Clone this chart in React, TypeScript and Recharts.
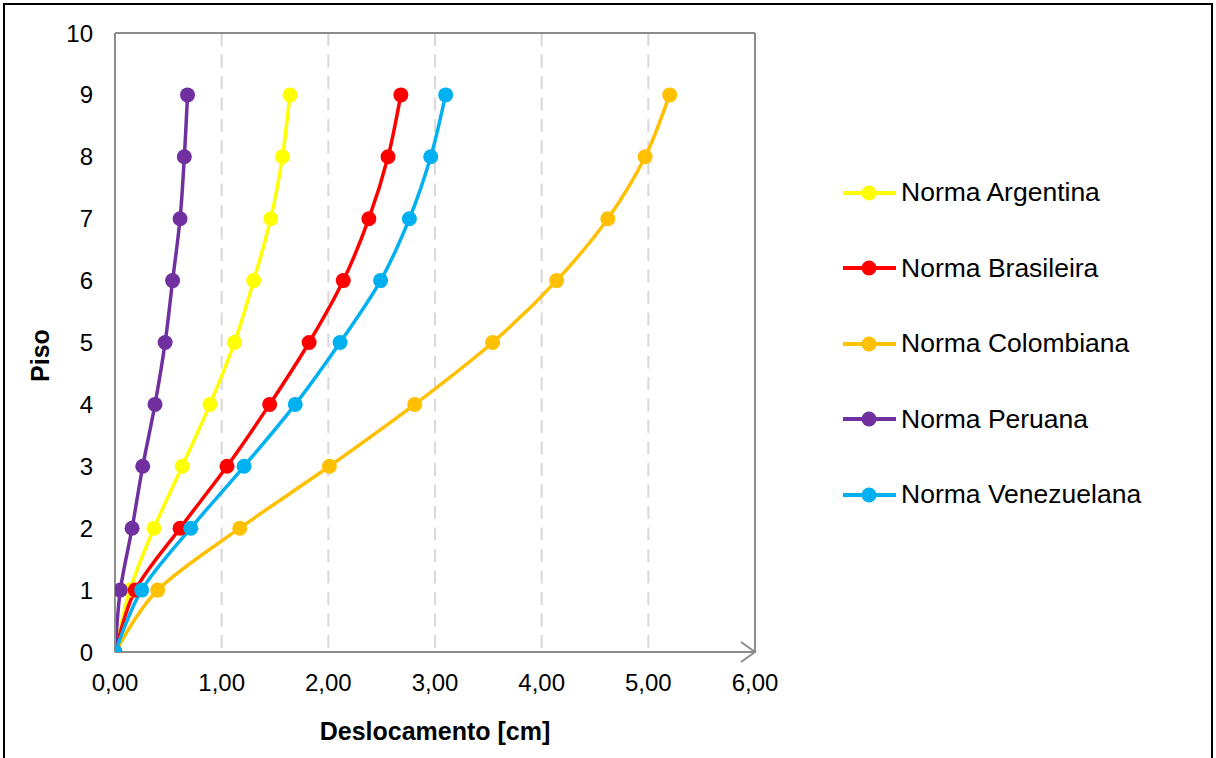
import React from 'react';
import { LineChart, Line, XAxis, YAxis, CartesianGrid, ReferenceLine } from 'recharts';

const floors = [0, 1, 2, 3, 4, 5, 6, 7, 8, 9];
const argentina = [0, 0.14, 0.365, 0.63, 0.89, 1.12, 1.3, 1.46, 1.57, 1.64];
const brasileira = [0, 0.19, 0.61, 1.05, 1.45, 1.82, 2.14, 2.38, 2.56, 2.68];
const colombiana = [0, 0.4, 1.17, 2.01, 2.81, 3.54, 4.14, 4.62, 4.97, 5.2];
const peruana = [0, 0.05, 0.16, 0.26, 0.375, 0.47, 0.54, 0.61, 0.65, 0.68];
const venezuelana = [0, 0.25, 0.71, 1.21, 1.69, 2.11, 2.49, 2.76, 2.96, 3.1];

const xTicks = [0, 1, 2, 3, 4, 5, 6];
const yTicks = [0, 1, 2, 3, 4, 5, 6, 7, 8, 9, 10];

const seriesNames = ['Norma Argentina', 'Norma Brasileira', 'Norma Colombiana', 'Norma Peruana', 'Norma Venezuelana'];
const seriesColors = ['#FFFF00', '#FF0000', '#FFC000', '#7030A0', '#00B0F0'];
const seriesValues = [argentina, brasileira, colombiana, peruana, venezuelana];

const FONT = '"Liberation Sans", Arial, sans-serif';
const AXIS_GRAY = '#8c8c8c';

const toData = (vals: number[]) => floors.map((f, i) => ({ x: vals[i], y: f }));

const fmt = (v: number) => v.toFixed(2).replace('.', ',');

// Catmull-Rom style smoothing (similar to Excel smoothed lines)
const smoothCurve = (context: any) => {
  let pts: [number, number][] = [];
  return {
    areaStart() {},
    areaEnd() {},
    lineStart() {
      pts = [];
    },
    lineEnd() {
      if (!pts.length) return;
      context.moveTo(pts[0][0], pts[0][1]);
      for (let i = 0; i < pts.length - 1; i++) {
        const p0 = pts[i - 1] || pts[i];
        const p1 = pts[i];
        const p2 = pts[i + 1];
        const p3 = pts[i + 2] || pts[i + 1];
        context.bezierCurveTo(
          p1[0] + (p2[0] - p0[0]) / 6,
          p1[1] + (p2[1] - p0[1]) / 6,
          p2[0] - (p3[0] - p1[0]) / 6,
          p2[1] - (p3[1] - p1[1]) / 6,
          p2[0],
          p2[1]
        );
      }
    },
    point(x: number, y: number) {
      pts.push([+x, +y]);
    },
  };
};

const XLabel = (props: any) => {
  const vb = props.viewBox || {};
  return (
    <text x={vb.x + vb.width / 2} y={vb.y + 88} textAnchor="middle" fontFamily={FONT} fontWeight="bold" fontSize={25} fill="#000">
      Deslocamento [cm]
    </text>
  );
};

const YLabel = (props: any) => {
  const vb = props.viewBox || {};
  const cx = vb.x + vb.width - 75;
  const cy = vb.y + vb.height / 2 + 13;
  return (
    <text x={cx} y={cy} transform={`rotate(-90 ${cx} ${cy})`} textAnchor="middle" dominantBaseline="central" fontFamily={FONT} fontWeight="bold" fontSize={25} fill="#000">
      Piso
    </text>
  );
};

export default function App() {
  return (
    <div style={{ position: 'absolute', left: 0, top: 0, width: 1216, height: 758, background: '#fff', overflow: 'hidden' }}>
      <LineChart width={1216} height={758} margin={{ top: 33, right: 461, bottom: 26, left: 35 }}>
        <defs>
          <marker id="axisArrow" markerUnits="userSpaceOnUse" markerWidth={20} markerHeight={24} refX={16} refY={12} orient="auto">
            <path d="M2,2 L16,12 L2,22" fill="none" stroke={AXIS_GRAY} strokeWidth={2} />
          </marker>
        </defs>
        <CartesianGrid horizontal={false} vertical={true} stroke="#d9d9d9" strokeWidth={2} strokeDasharray="13 8.5" />
        <XAxis
          type="number"
          dataKey="x"
          domain={[0, 6]}
          ticks={xTicks}
          tickFormatter={fmt}
          height={80}
          axisLine={{ stroke: AXIS_GRAY, strokeWidth: 2, markerEnd: 'url(#axisArrow)' }}
          tickLine={false}
          tickSize={6}
          tickMargin={16}
          tick={{ fontFamily: FONT, fontSize: 24, fill: '#000' }}
          allowDataOverflow
          label={<XLabel />}
        />
        <YAxis
          type="number"
          dataKey="y"
          domain={[0, 10]}
          ticks={yTicks}
          width={80}
          axisLine={{ stroke: AXIS_GRAY, strokeWidth: 2 }}
          tickLine={false}
          tickSize={6}
          tickMargin={16}
          tick={{ fontFamily: FONT, fontSize: 24, fill: '#000' }}
          allowDataOverflow
          label={<YLabel />}
        />
        <ReferenceLine y={10} stroke={AXIS_GRAY} strokeWidth={2} ifOverflow="visible" />
        <ReferenceLine x={6} stroke={AXIS_GRAY} strokeWidth={2} ifOverflow="visible" />
        {seriesNames.map((name, i) => (
          <Line
            key={name}
            name={name}
            data={toData(seriesValues[i])}
            dataKey="y"
            type={smoothCurve as any}
            stroke={seriesColors[i]}
            strokeWidth={3.5}
            dot={{ r: 7.5, fill: seriesColors[i], stroke: seriesColors[i], strokeWidth: 0 }}
            activeDot={false}
            isAnimationActive={false}
          />
        ))}
      </LineChart>
      <div style={{ position: 'absolute', left: 843, top: 155, width: 360, fontFamily: FONT }}>
        {seriesNames.map((name, i) => (
          <div key={name} style={{ display: 'flex', alignItems: 'center', height: 75.5 }}>
            <svg width={53} height={18} style={{ display: 'block' }}>
              <line x1={0} y1={9} x2={53} y2={9} stroke={seriesColors[i]} strokeWidth={4} />
              <circle cx={26} cy={9} r={7.5} fill={seriesColors[i]} />
            </svg>
            <span style={{ marginLeft: 5, fontSize: 26.5, color: '#000', whiteSpace: 'nowrap' }}>{name}</span>
          </div>
        ))}
      </div>
      <div style={{ position: 'absolute', left: 3, top: 3, width: 1210, height: 770, border: '2px solid #000', boxSizing: 'border-box', pointerEvents: 'none' }} />
    </div>
  );
}
